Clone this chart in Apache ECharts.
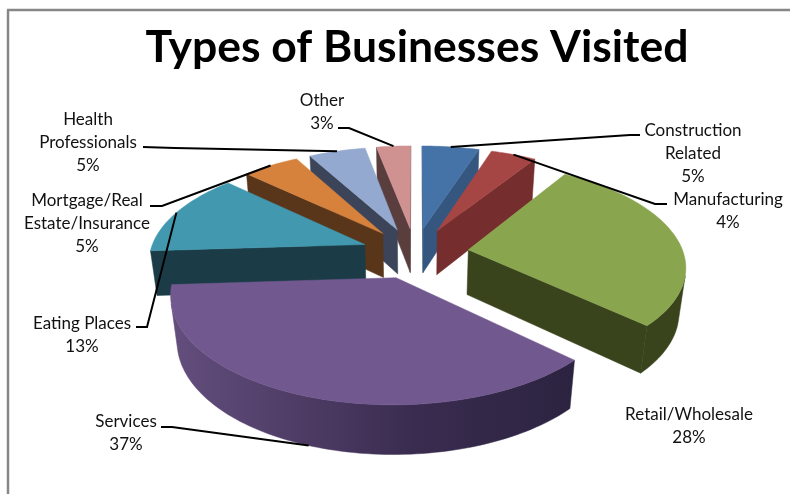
<!DOCTYPE html>
<html>
<head>
<meta charset="utf-8">
<style>html,body{margin:0;padding:0;background:#fff}#chart{width:790px;height:494px}</style>
<script src="https://cdn.jsdelivr.net/npm/echarts@6/dist/echarts.min.js"></script>
</head>
<body>
<div id="chart"></div>
<script>
// Chart content
const chartTitle = 'Types of Businesses Visited';
const categories = ['Construction\nRelated', 'Manufacturing', 'Retail/Wholesale', 'Services', 'Eating Places', 'Mortgage/Real\nEstate/Insurance', 'Health\nProfessionals', 'Other'];
const shares = [5, 4, 28, 37, 13, 5, 5, 3];

// Palette: top face, side walls and outer rim of each slice
const topColors = ['#4572a7', '#a64644', '#89a54e', '#71588f', '#4198af', '#d6823c', '#93a9cf', '#d09291'];
const wallColors = ['#34567f', '#752e2d', '#39431c', '#2c2340', '#1b3c47', '#59351a', '#3b4458', '#5a3e3e'];
const rimColors = ['#34567f', '#752e2d', '#39431c', null, '#1b3c47', '#59351a', '#3b4458', '#5a3e3e'];
const servicesRimStops = [[0, '#634e7d'], [0.35, '#4c3a63'], [0.6, '#3a2c50'], [1, '#2c2340']];

// Projection of the tilted, exploded disc
const view = { cx: 415, cy: 253, radius: 215, explode: 54, squash: 0.47, depth: 46, focal: 1500, focalZ: 1800 };

// Label placement: centre of text block, first-line y, leader elbow and end
const labelLayout = [
  { x: 693, y: 130, elbow: [630, 135], end: [640, 135] },
  { x: 728, y: 199, elbow: [655, 204], end: [667, 204] },
  { x: 689, y: 414 },
  { x: 126, y: 421, elbow: [172, 427], end: [161, 427], onBase: true },
  { x: 82, y: 323, elbow: [147, 327], end: [136, 327] },
  { x: 87, y: 200, elbow: [162, 206], end: [150, 206] },
  { x: 88, y: 119, elbow: [175, 148], end: [143, 147] },
  { x: 322, y: 100, elbow: [349, 128], end: [338, 128] }
];

const total = shares.reduce((a, b) => a + b, 0);
const slices = [];
let running = 0;
shares.forEach((v, i) => {
  const a0 = running / total * Math.PI * 2;
  running += v;
  const a1 = running / total * Math.PI * 2;
  slices.push({ index: i, a0, a1, mid: (a0 + a1) / 2 });
});

function project(X, Y, Z) {
  const s = 1 / (1 - Y / view.focal + Z / view.focalZ);
  return [view.cx + X * s, view.cy + (Y * view.squash + Z) * s];
}
function slicePoint(sl, angle, r, Z) {
  const ox = view.explode * Math.sin(sl.mid), oy = -view.explode * Math.cos(sl.mid);
  return project(ox + r * Math.sin(angle), oy - r * Math.cos(angle), Z);
}
function faceVisible(p, q, pb, qb) {
  const poly = [p, q, qb, pb];
  let area = 0;
  for (let i = 0; i < 4; i++) {
    const a = poly[i], b = poly[(i + 1) % 4];
    area += a[0] * b[1] - b[0] * a[1];
  }
  return area < 0;
}

function renderSlice(params, api) {
  const sl = slices[api.value(0)];
  const i = sl.index, R = view.radius, D = view.depth;
  const steps = Math.max(8, Math.round((sl.a1 - sl.a0) * 40));
  const tipTop = slicePoint(sl, 0, 0, 0), tipBase = slicePoint(sl, 0, 0, D);
  const arcTop = [], arcBase = [];
  for (let k = 0; k <= steps; k++) {
    const t = sl.a0 + (sl.a1 - sl.a0) * k / steps;
    arcTop.push(slicePoint(sl, t, R, 0));
    arcBase.push(slicePoint(sl, t, R, D));
  }
  const children = [];
  const wall = (pts, fill) => children.push({ type: 'polygon', shape: { points: pts }, style: { fill, stroke: fill, lineWidth: 0.5 } });

  // Flat side walls along the two radial cuts
  const startTop = arcTop[0], startBase = arcBase[0];
  const endTop = arcTop[steps], endBase = arcBase[steps];
  if (faceVisible(tipTop, startTop, tipBase, startBase)) wall([tipTop, startTop, startBase, tipBase], wallColors[i]);
  if (faceVisible(endTop, tipTop, endBase, tipBase)) wall([endTop, tipTop, tipBase, endBase], wallColors[i]);

  // Curved outer rim, only the stretch that faces the viewer
  const runTop = [], runBase = [];
  for (let k = 0; k < steps; k++) {
    if (faceVisible(arcTop[k], arcTop[k + 1], arcBase[k], arcBase[k + 1])) {
      if (!runTop.length) { runTop.push(arcTop[k]); runBase.push(arcBase[k]); }
      runTop.push(arcTop[k + 1]);
      runBase.push(arcBase[k + 1]);
    }
  }
  if (runTop.length) {
    const fill = rimColors[i] || new echarts.graphic.LinearGradient(0, 0, 1, 0,
      servicesRimStops.map(s => ({ offset: s[0], color: s[1] })));
    wall(runTop.concat(runBase.slice().reverse()), fill);
  }

  // Top face
  children.push({ type: 'polygon', shape: { points: [tipTop].concat(arcTop) }, style: { fill: topColors[i], stroke: topColors[i], lineWidth: 0.5 } });
  return { type: 'group', children };
}

function renderLabel(params, api) {
  const sl = slices[api.value(0)];
  const i = sl.index, pos = labelLayout[i];
  const children = [];
  if (pos.elbow) {
    const start = slicePoint(sl, sl.mid, view.radius, pos.onBase ? view.depth : 0);
    children.push({ type: 'polyline', shape: { points: [start, pos.elbow, pos.end] }, style: { fill: null, stroke: '#000', lineWidth: 2 } });
  }
  children.push({
    type: 'text',
    style: {
      text: categories[i] + '\n' + shares[i] + '%',
      x: pos.x, y: pos.y - 11,
      textAlign: 'center', textVerticalAlign: 'top',
      font: '17px Lato', lineHeight: 23, fill: '#111'
    }
  });
  return { type: 'group', children };
}

// Back-to-front painting order: slices nearest the viewer go last
const paintOrder = slices.slice().sort((a, b) => Math.cos(b.mid) - Math.cos(a.mid)).map(s => s.index);

const chart = echarts.init(document.getElementById('chart'), null, { renderer: 'canvas' });
chart.setOption({
  animation: false,
  backgroundColor: '#fff',
  title: {
    text: chartTitle, left: 412, top: 20, textAlign: 'center',
    textStyle: { fontFamily: 'Lato', fontWeight: 'bold', fontSize: 44.5, color: '#000' }
  },
  graphic: [
    { type: 'line', shape: { x1: 8, y1: 10, x2: 8, y2: 494 }, style: { stroke: '#878787', lineWidth: 2.5 } },
    { type: 'line', shape: { x1: 7, y1: 10, x2: 790, y2: 10 }, style: { stroke: '#878787', lineWidth: 2.5 } }
  ],
  series: [
    { type: 'custom', coordinateSystem: 'none', renderItem: renderSlice, data: paintOrder.map(i => [i]), z: 2, silent: true },
    { type: 'custom', coordinateSystem: 'none', renderItem: renderLabel, data: slices.map(s => [s.index]), z: 3, silent: true }
  ]
});
</script>
</body>
</html>
